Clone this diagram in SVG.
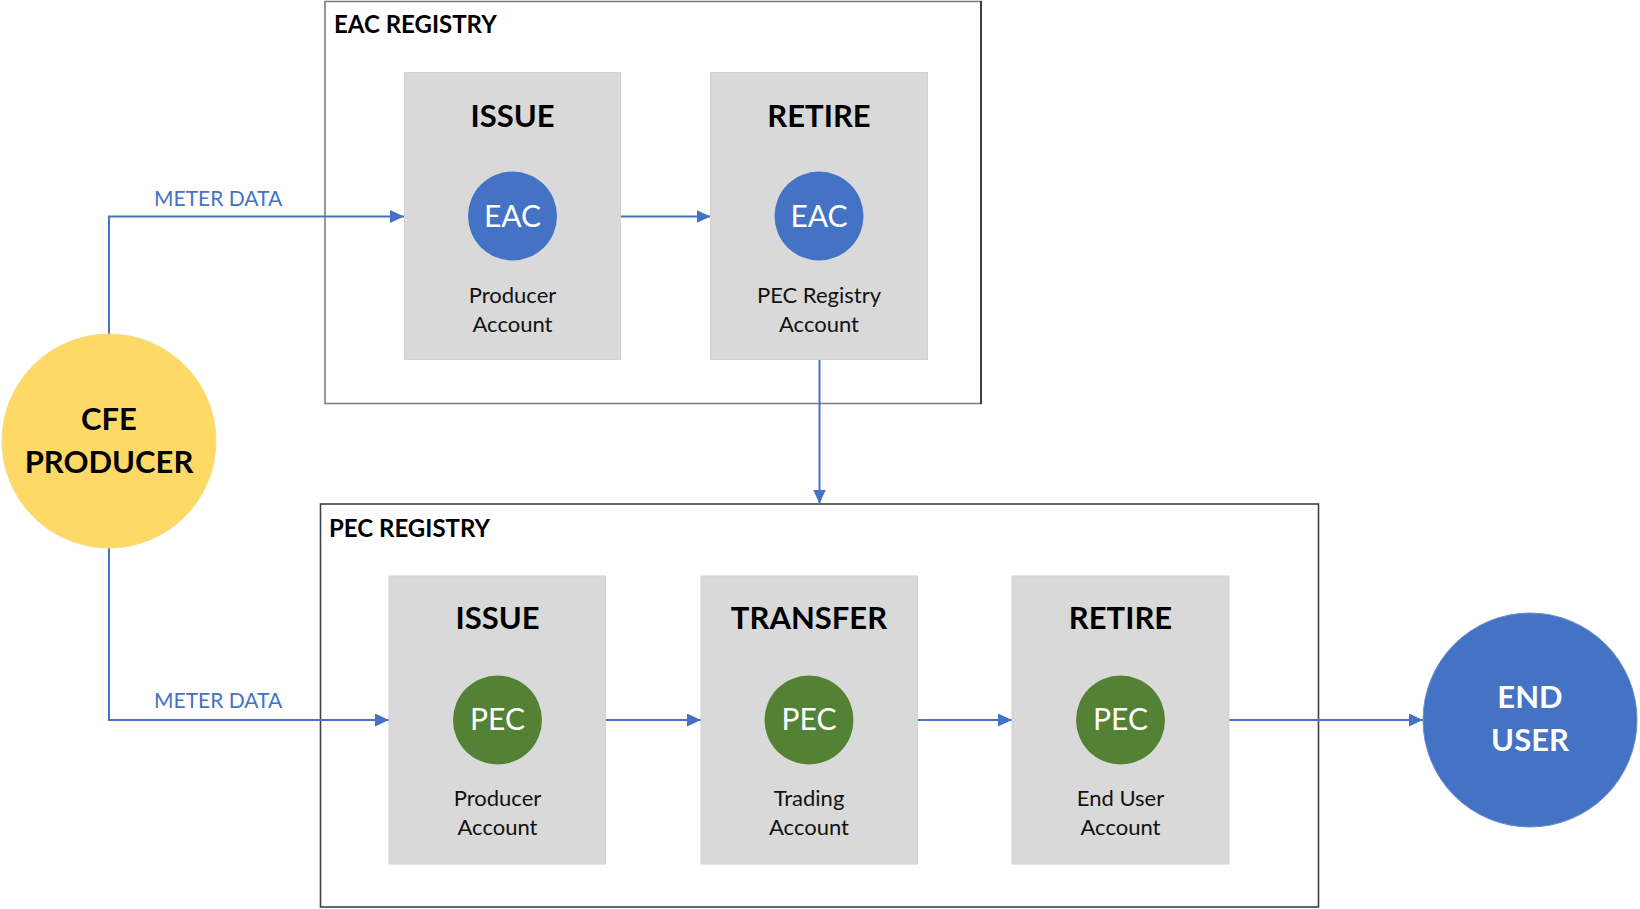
<svg xmlns="http://www.w3.org/2000/svg" width="1640" height="909" viewBox="0 0 1640 909">
  <defs>
    <marker id="arrow" markerUnits="userSpaceOnUse" markerWidth="14" markerHeight="13" refX="14" refY="6.5" orient="auto">
      <path d="M0,0 L14,6.5 L0,13 Z" fill="#4472C4"/>
    </marker>
    <style>
      text { font-family: Lato, "Open Sans", "Liberation Sans", sans-serif; }
      .registry { fill: #FFFFFF; stroke-width: 1.6; }
      .reglabel { font-size: 24px; font-weight: bold; fill: #000000; }
      .step { fill: #D9D9D9; stroke: #D2D2D2; stroke-width: 1; }
      .title { font-size: 31px; font-weight: bold; fill: #000000; text-anchor: middle; }
      .token { font-size: 30px; fill: #FFFFFF; text-anchor: middle; }
      .acct { font-size: 22px; fill: #111111; text-anchor: middle; }
      .eac { fill: #4472C4; }
      .pec { fill: #548235; }
      .conn { fill: none; stroke: #4472C4; stroke-width: 2; marker-end: url(#arrow); }
      .conn-label { font-size: 21px; fill: #4472C4; }
      .actor { font-size: 31px; font-weight: bold; text-anchor: middle; }
    </style>
  </defs>

  <rect width="1640" height="909" fill="#FFFFFF"/>

  <g id="eac-registry">
    <rect class="registry" x="325" y="1.5" width="656" height="402" stroke="#7F7F7F"/>
    <line x1="981" y1="1" x2="981" y2="404" stroke="#262626" stroke-width="1.6"/>
    <text class="reglabel" x="334" y="33">EAC REGISTRY</text>
  </g>

  <g id="pec-registry">
    <rect class="registry" x="320.5" y="504" width="998" height="403" stroke="#404040"/>
    <text class="reglabel" x="329" y="537">PEC REGISTRY</text>
  </g>

  <g id="connectors">
    <path class="conn" d="M109,334 V216.5 H404"/>
    <path class="conn" d="M620.5,216.5 H710.5"/>
    <path class="conn" d="M819.5,360 V503.5"/>
    <path class="conn" d="M109,548 V720 H389"/>
    <path class="conn" d="M605.5,720 H701"/>
    <path class="conn" d="M917.5,720 H1012"/>
    <path class="conn" d="M1229,720 H1423"/>
    <text class="conn-label" x="154" y="206">METER DATA</text>
    <text class="conn-label" x="154" y="708">METER DATA</text>
  </g>

  <g id="eac-issue">
    <rect class="step" x="404.5" y="72.5" width="216" height="287"/>
    <text class="title" x="512.5" y="127">ISSUE</text>
    <circle class="eac" cx="512.5" cy="216" r="44.5"/>
    <text class="token" x="512.5" y="227">EAC</text>
    <text class="acct" x="512.5" y="303">Producer</text>
    <text class="acct" x="512.5" y="332">Account</text>
  </g>

  <g id="eac-retire">
    <rect class="step" x="710.5" y="72.5" width="217" height="287"/>
    <text class="title" x="819" y="127">RETIRE</text>
    <circle class="eac" cx="819" cy="216" r="44.5"/>
    <text class="token" x="819" y="227">EAC</text>
    <text class="acct" x="819" y="303">PEC Registry</text>
    <text class="acct" x="819" y="332">Account</text>
  </g>

  <g id="pec-issue">
    <rect class="step" x="389" y="576" width="216.5" height="288"/>
    <text class="title" x="497.5" y="629">ISSUE</text>
    <circle class="pec" cx="497.5" cy="720" r="44.5"/>
    <text class="token" x="497.5" y="730">PEC</text>
    <text class="acct" x="497.5" y="806">Producer</text>
    <text class="acct" x="497.5" y="835">Account</text>
  </g>

  <g id="pec-transfer">
    <rect class="step" x="701" y="576" width="216.5" height="288"/>
    <text class="title" x="809" y="629">TRANSFER</text>
    <circle class="pec" cx="809" cy="720" r="44.5"/>
    <text class="token" x="809" y="730">PEC</text>
    <text class="acct" x="809" y="806">Trading</text>
    <text class="acct" x="809" y="835">Account</text>
  </g>

  <g id="pec-retire">
    <rect class="step" x="1012" y="576" width="217" height="288"/>
    <text class="title" x="1120.5" y="629">RETIRE</text>
    <circle class="pec" cx="1120.5" cy="720" r="44.5"/>
    <text class="token" x="1120.5" y="730">PEC</text>
    <text class="acct" x="1120.5" y="806">End User</text>
    <text class="acct" x="1120.5" y="835">Account</text>
  </g>

  <g id="cfe-producer">
    <circle cx="109" cy="441" r="107" fill="#FFD966" stroke="#F5DC8C" stroke-width="1"/>
    <text class="actor" x="109" y="430" fill="#000000">CFE</text>
    <text class="actor" x="109" y="473" fill="#000000">PRODUCER</text>
  </g>

  <g id="end-user">
    <circle cx="1530" cy="720" r="107" fill="#4472C4" stroke="#6A8FD0" stroke-width="1"/>
    <text class="actor" x="1530" y="708" fill="#FFFFFF">END</text>
    <text class="actor" x="1530" y="751" fill="#FFFFFF">USER</text>
  </g>
</svg>
